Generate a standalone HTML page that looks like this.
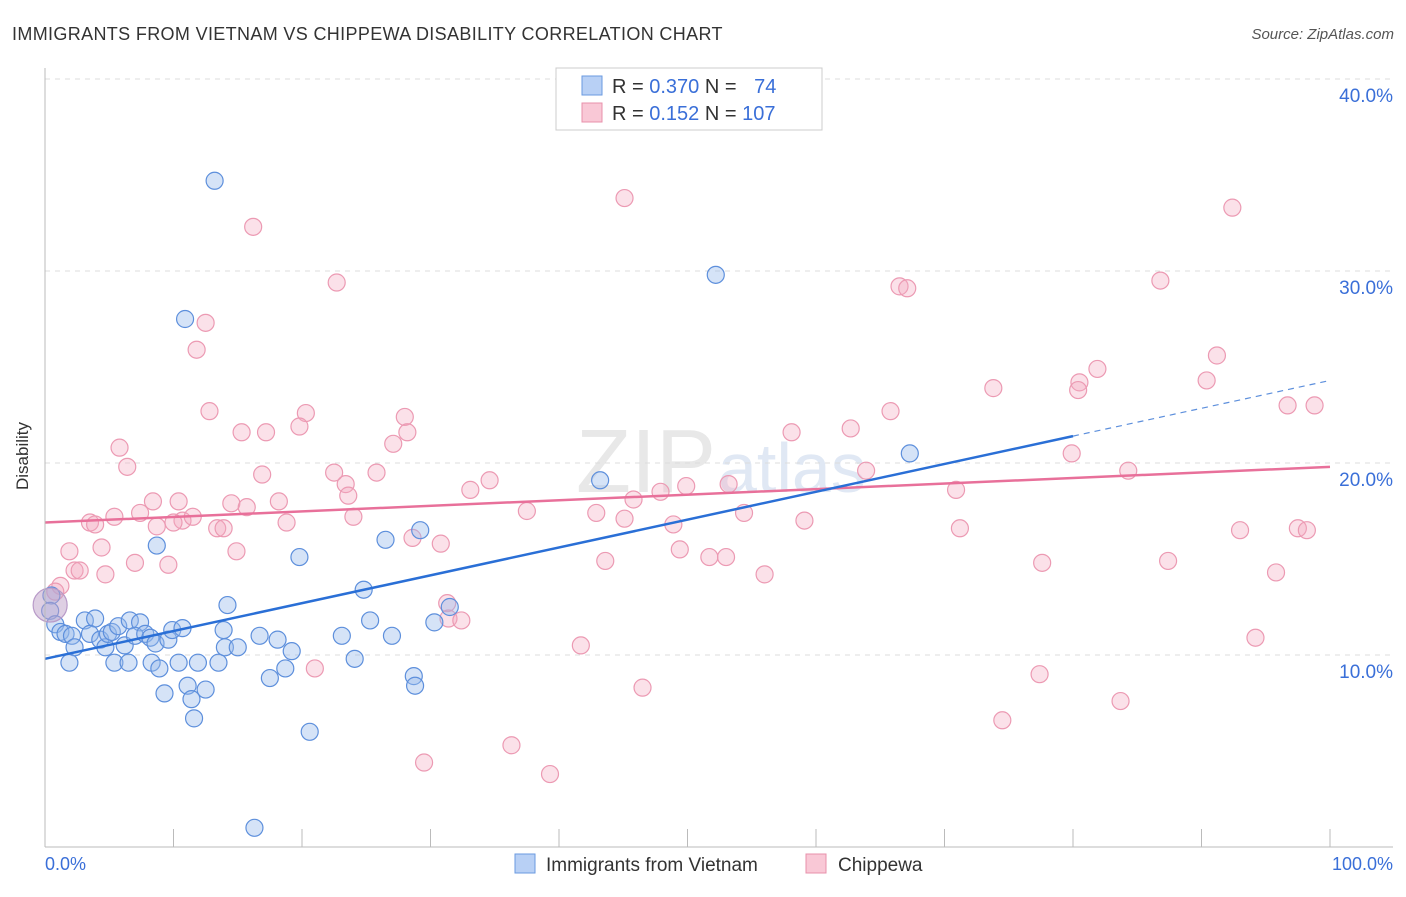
<!DOCTYPE html>
<html><head><meta charset="utf-8"><style>
body{margin:0;background:#fff;font-family:"Liberation Sans",sans-serif;}
svg text{font-family:"Liberation Sans",sans-serif;}
</style></head><body>
<svg id="chart" width="1406" height="892">
<text x="12" y="40" font-size="18" fill="#333" letter-spacing="0.35">IMMIGRANTS FROM VIETNAM VS CHIPPEWA DISABILITY CORRELATION CHART</text>
<text x="1394" y="39" font-size="15" fill="#555" font-style="italic" text-anchor="end">Source: ZipAtlas.com</text>
<text x="716" y="492" font-size="90" fill="#e8e8e8" text-anchor="end" font-family="Liberation Serif">ZIP</text>
<text x="718" y="492" font-size="70" fill="#e0e8f4">atlas</text>
<g id="grid"></g>
<g id="marks"></g>
<line x1="45" y1="68" x2="45" y2="847" stroke="#bbb"/>
<line x1="45" y1="847" x2="1393" y2="847" stroke="#bbb"/>
<text x="28" y="456" font-size="17" fill="#333" transform="rotate(-90 28 456)" text-anchor="middle">Disability</text>
<text x="45" y="870" font-size="18" fill="#3a6fd8">0.0%</text>
<text x="1393" y="870" font-size="18" fill="#3a6fd8" text-anchor="end">100.0%</text>
<g>
<rect x="556" y="68" width="266" height="62" fill="#fff" stroke="#ccc"/>
<rect x="582" y="76" width="20" height="19" fill="#b8d0f5" stroke="#6a9ae0"/>
<rect x="582" y="103" width="20" height="19" fill="#f9c8d6" stroke="#e890ab"/>
<text x="612" y="93" font-size="20" fill="#333">R = <tspan fill="#3a6fd8">0.370</tspan>   N =  <tspan fill="#3a6fd8" dx="12">74</tspan></text>
<text x="612" y="120" font-size="20" fill="#333">R =  <tspan fill="#3a6fd8">0.152</tspan>   N = <tspan fill="#3a6fd8">107</tspan></text>
</g>
<g>
<rect x="515" y="854" width="20" height="19" fill="#b8d0f5" stroke="#6a9ae0"/>
<text x="546" y="871" font-size="19" fill="#333">Immigrants from Vietnam</text>
<rect x="806" y="854" width="20" height="19" fill="#f9c8d6" stroke="#e890ab"/>
<text x="838" y="871" font-size="19" fill="#333">Chippewa</text>
</g>
</svg>
<script>
const blueX=[13.2,10.9,52.2,67.3,43.2,29.2,26.5,8.7,19.8,24.8,14.2,31.5,30.3,25.3,0.5,0.4,0.8,1.2,1.6,2.1,2.3,1.9,3.1,3.9,3.5,4.3,4.7,4.9,5.2,5.7,5.4,6.2,6.5,6.6,7.4,7.0,7.8,8.2,8.3,8.6,8.9,9.6,9.9,10.4,10.7,11.1,11.4,11.6,11.9,12.5,13.5,13.9,14.0,15.0,16.7,17.5,18.1,18.7,19.2,20.6,23.1,24.1,27.0,28.7,28.8,16.3,9.3];
const blueY=[34.7,27.5,29.8,20.5,19.1,16.5,16.0,15.7,15.1,13.4,12.6,12.5,11.7,11.8,13.1,12.3,11.6,11.2,11.1,11.0,10.4,9.6,11.8,11.9,11.1,10.8,10.4,11.1,11.2,11.5,9.6,10.5,9.6,11.8,11.7,11.0,11.1,10.9,9.6,10.6,9.3,10.8,11.3,9.6,11.4,8.4,7.7,6.7,9.6,8.2,9.6,11.3,10.4,10.4,11.0,8.8,10.8,9.3,10.2,6.0,11.0,9.8,11.0,8.9,8.4,1.0,8.0];
const pinkX=[45.1,16.2,92.4,22.7,66.5,67.1,86.8,12.5,11.8,91.2,90.4,81.9,80.5,80.4,73.8,65.8,96.7,98.8,12.8,20.3,28.0,15.3,17.2,19.8,28.2,27.1,58.1,62.7,79.9,5.8,6.4,16.9,22.5,25.8,63.9,84.3,34.6,33.1,23.4,23.6,49.9,53.2,70.9,8.4,10.4,14.5,18.2,15.7,7.4,5.4,3.5,3.9,10.7,10.0,11.5,37.5,42.9,45.8,47.9,54.4,59.1,24.0,18.8,8.7,13.4,13.9,48.9,45.1,71.2,93.0,97.5,98.2,4.4,1.9,14.9,28.6,30.8,49.4,51.7,53.0,43.6,77.6,87.4,7.0,9.6,2.3,2.7,4.7,56.0,95.8,1.2,0.8,31.3,31.4,32.4,41.7,94.2,21.0,46.5,77.4,83.7,74.5,36.3,29.5,39.3];
const pinkY=[33.8,32.3,33.3,29.4,29.2,29.1,29.5,27.3,25.9,25.6,24.3,24.9,24.2,23.8,23.9,22.7,23.0,23.0,22.7,22.6,22.4,21.6,21.6,21.9,21.6,21.0,21.6,21.8,20.5,20.8,19.8,19.4,19.5,19.5,19.6,19.6,19.1,18.6,18.9,18.3,18.8,18.9,18.6,18.0,18.0,17.9,18.0,17.7,17.4,17.2,16.9,16.8,17.0,16.9,17.2,17.5,17.4,18.1,18.5,17.4,17.0,17.2,16.9,16.7,16.6,16.6,16.8,17.1,16.6,16.5,16.6,16.5,15.6,15.4,15.4,16.1,15.8,15.5,15.1,15.1,14.9,14.8,14.9,14.8,14.7,14.4,14.4,14.2,14.2,14.3,13.6,13.3,12.7,11.9,11.8,10.5,10.9,9.3,8.3,9.0,7.6,6.6,5.3,4.4,3.8];
const yTicks=[10,20,30,40];
const xTicks=[0,10,20,30,40,50,60,70,80,90,100];
const blueTrend=[9.8,24.3];
const pinkTrend=[16.9,19.8];
const blueSolidEnd=80;

const NS="http://www.w3.org/2000/svg";
const sx=v=>45+v*12.85, sy=v=>847-v*19.2;
function mk(tag,attrs,parent){const e=document.createElementNS(NS,tag);for(const k in attrs)e.setAttribute(k,attrs[k]);parent.appendChild(e);return e;}
const grid=document.getElementById('grid'), marks=document.getElementById('marks');
yTicks.forEach(t=>{
  const l=mk('line',{x1:45,x2:1393,y1:sy(t),y2:sy(t),stroke:'#ddd','stroke-dasharray':'5,5'},grid);
  
  
  const tx=mk('text',{x:1393,y:sy(t)+23,'font-size':19,fill:'#3a6fd8','text-anchor':'end'},grid);
  tx.textContent=t.toFixed(1)+'%';
  
  
});
xTicks.forEach(t=>{
  const l=mk('line',{x1:sx(t),x2:sx(t),y1:829,y2:847,stroke:'#bbb'},grid);
  
  
});
pinkX.forEach((x,i)=>{
  const c=mk('circle',{cx:sx(x),cy:sy(pinkY[i]),r:8.5,fill:'rgba(244,170,192,0.35)',stroke:'#ec9ab3','stroke-width':1.2},marks);
  
  
});
blueX.forEach((x,i)=>{
  const c=mk('circle',{cx:sx(x),cy:sy(blueY[i]),r:8.5,fill:'rgba(150,185,235,0.4)',stroke:'#5d8fdc','stroke-width':1.2},marks);
  
  
});
const big=mk('circle',{cx:sx(0.4),cy:sy(12.6),r:17,fill:'rgba(190,160,200,0.5)',stroke:'#b89ac8','stroke-width':1.2},marks);


const bAt=x=>blueTrend[0]+(blueTrend[1]-blueTrend[0])*x/100;
const pAt=x=>pinkTrend[0]+(pinkTrend[1]-pinkTrend[0])*x/100;
const pl=mk('line',{x1:sx(0),y1:sy(pAt(0)),x2:sx(100),y2:sy(pAt(100)),stroke:'#e8709a','stroke-width':2.5},marks);


const bl=mk('line',{x1:sx(0),y1:sy(bAt(0)),x2:sx(blueSolidEnd),y2:sy(bAt(blueSolidEnd)),stroke:'#2a6fd6','stroke-width':2.5},marks);


const bd=mk('line',{x1:sx(blueSolidEnd),y1:sy(bAt(blueSolidEnd)),x2:sx(100),y2:sy(bAt(100)),stroke:'#5d8fdc','stroke-width':1.2,'stroke-dasharray':'6,5'},marks);


</script>
</body></html>
